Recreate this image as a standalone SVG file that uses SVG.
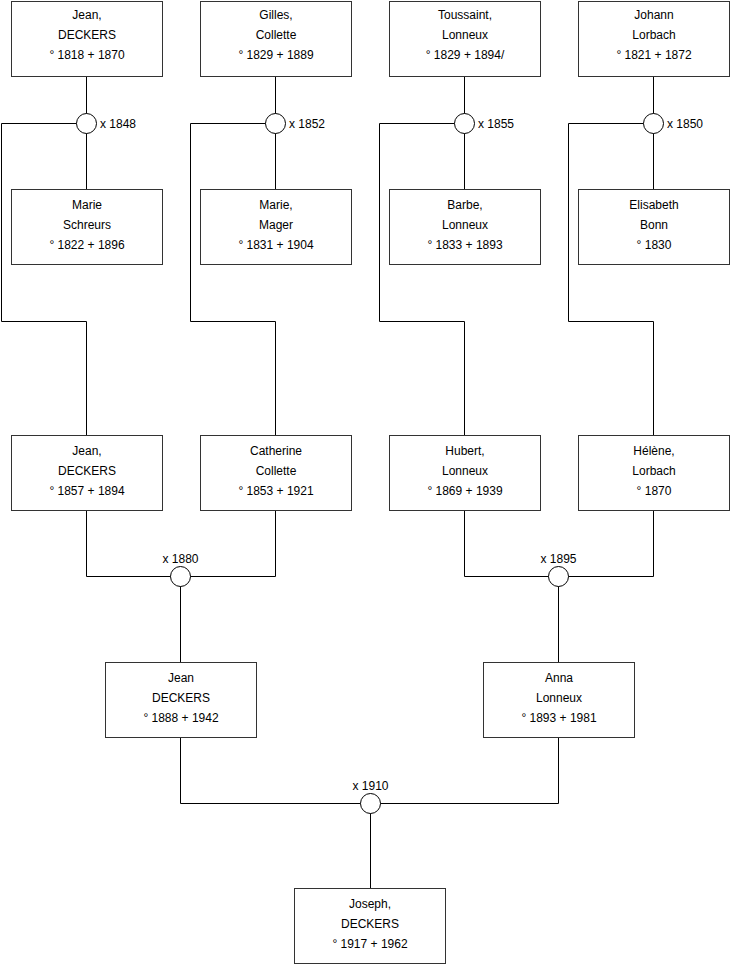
<svg xmlns="http://www.w3.org/2000/svg" width="740" height="975" viewBox="0 0 740 975">
<style>
.box{fill:#fff;stroke:#333;stroke-width:1}
.t{font-family:"Liberation Sans",Arial,sans-serif;font-size:12px;fill:#000;text-anchor:middle}
.l{font-family:"Liberation Sans",Arial,sans-serif;font-size:12px;fill:#000}
.c{fill:#fff;stroke:#000;stroke-width:1}
.w{fill:none;stroke:#000;stroke-width:1}
</style>
<rect width="740" height="975" fill="#fff"/>
<g id="connectors">
<path class="w" d="M86.5 76.5V189.5M1.5 123.5H86.5M1.5 123.5V321.5H86.5V435.5"/>
<path class="w" d="M275.5 76.5V189.5M190.5 123.5H275.5M190.5 123.5V321.5H275.5V435.5"/>
<path class="w" d="M464.5 76.5V189.5M379.5 123.5H464.5M379.5 123.5V321.5H464.5V435.5"/>
<path class="w" d="M653.5 76.5V189.5M568.5 123.5H653.5M568.5 123.5V321.5H653.5V435.5"/>
<path class="w" d="M86.5 510.5V576.5H275.5V510.5M180.5 576.5V662.5"/>
<path class="w" d="M464.5 510.5V576.5H653.5V510.5M558.5 576.5V662.5"/>
<path class="w" d="M180.5 737.5V803.5H558.5V737.5M370.5 803.5V888.5"/>
<circle class="c" cx="86.5" cy="123.5" r="10"/><text class="l" x="100" y="128">x 1848</text>
<circle class="c" cx="275.5" cy="123.5" r="10"/><text class="l" x="289" y="128">x 1852</text>
<circle class="c" cx="464.5" cy="123.5" r="10"/><text class="l" x="478" y="128">x 1855</text>
<circle class="c" cx="653.5" cy="123.5" r="10"/><text class="l" x="667" y="128">x 1850</text>
<circle class="c" cx="180.5" cy="576.5" r="10"/><text class="t" x="180.5" y="563">x 1880</text>
<circle class="c" cx="558.5" cy="576.5" r="10"/><text class="t" x="558.5" y="563">x 1895</text>
<circle class="c" cx="370.5" cy="803.5" r="10"/><text class="t" x="370.5" y="790">x 1910</text>
</g>
<g id="n1"><rect class="box" x="11.5" y="1.5" width="151" height="75"/><text class="t" x="87" y="19">Jean,</text><text class="t" x="87" y="39">DECKERS</text><text class="t" x="87" y="59">° 1818 + 1870</text></g>
<g id="n2"><rect class="box" x="200.5" y="1.5" width="151" height="75"/><text class="t" x="276" y="19">Gilles,</text><text class="t" x="276" y="39">Collette</text><text class="t" x="276" y="59">° 1829 + 1889</text></g>
<g id="n3"><rect class="box" x="389.5" y="1.5" width="151" height="75"/><text class="t" x="465" y="19">Toussaint,</text><text class="t" x="465" y="39">Lonneux</text><text class="t" x="465" y="59">° 1829 + 1894/</text></g>
<g id="n4"><rect class="box" x="578.5" y="1.5" width="151" height="75"/><text class="t" x="654" y="19">Johann</text><text class="t" x="654" y="39">Lorbach</text><text class="t" x="654" y="59">° 1821 + 1872</text></g>
<g id="n5"><rect class="box" x="11.5" y="189.5" width="151" height="75"/><text class="t" x="87" y="209">Marie</text><text class="t" x="87" y="229">Schreurs</text><text class="t" x="87" y="249">° 1822 + 1896</text></g>
<g id="n6"><rect class="box" x="200.5" y="189.5" width="151" height="75"/><text class="t" x="276" y="209">Marie,</text><text class="t" x="276" y="229">Mager</text><text class="t" x="276" y="249">° 1831 + 1904</text></g>
<g id="n7"><rect class="box" x="389.5" y="189.5" width="151" height="75"/><text class="t" x="465" y="209">Barbe,</text><text class="t" x="465" y="229">Lonneux</text><text class="t" x="465" y="249">° 1833 + 1893</text></g>
<g id="n8"><rect class="box" x="578.5" y="189.5" width="151" height="75"/><text class="t" x="654" y="209">Elisabeth</text><text class="t" x="654" y="229">Bonn</text><text class="t" x="654" y="249">° 1830</text></g>
<g id="n9"><rect class="box" x="11.5" y="435.5" width="151" height="75"/><text class="t" x="87" y="455">Jean,</text><text class="t" x="87" y="475">DECKERS</text><text class="t" x="87" y="495">° 1857 + 1894</text></g>
<g id="n10"><rect class="box" x="200.5" y="435.5" width="151" height="75"/><text class="t" x="276" y="455">Catherine</text><text class="t" x="276" y="475">Collette</text><text class="t" x="276" y="495">° 1853 + 1921</text></g>
<g id="n11"><rect class="box" x="389.5" y="435.5" width="151" height="75"/><text class="t" x="465" y="455">Hubert,</text><text class="t" x="465" y="475">Lonneux</text><text class="t" x="465" y="495">° 1869 + 1939</text></g>
<g id="n12"><rect class="box" x="578.5" y="435.5" width="151" height="75"/><text class="t" x="654" y="455">Hélène,</text><text class="t" x="654" y="475">Lorbach</text><text class="t" x="654" y="495">° 1870</text></g>
<g id="n13"><rect class="box" x="105.5" y="662.5" width="151" height="75"/><text class="t" x="181" y="682">Jean</text><text class="t" x="181" y="702">DECKERS</text><text class="t" x="181" y="722">° 1888 + 1942</text></g>
<g id="n14"><rect class="box" x="483.5" y="662.5" width="151" height="75"/><text class="t" x="559" y="682">Anna</text><text class="t" x="559" y="702">Lonneux</text><text class="t" x="559" y="722">° 1893 + 1981</text></g>
<g id="n15"><rect class="box" x="294.5" y="888.5" width="151" height="75"/><text class="t" x="370" y="908">Joseph,</text><text class="t" x="370" y="928">DECKERS</text><text class="t" x="370" y="948">° 1917 + 1962</text></g>
</svg>
